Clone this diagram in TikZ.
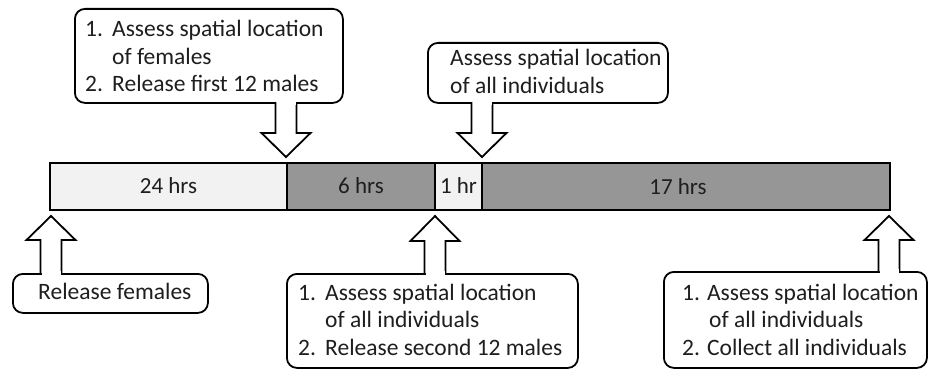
\documentclass[tikz,border=0pt]{standalone}
\usepackage{fontspec}
\setmainfont{Carlito}
\definecolor{barlight}{HTML}{F2F2F2}
\definecolor{bardark}{HTML}{969696}
\definecolor{txtcol}{HTML}{1E1E1E}
\newcommand\ind[1]{\makebox[27pt][l]{#1}}
\newcommand\calloutarrow[4]{%
  \draw[arrowline] (#1-10.5,#2) -- (#1-10.5,#3) -- (#1-24.5,#3) -- (#1,#4) -- (#1+24.5,#3) -- (#1+10.5,#3) -- (#1+10.5,#2);
  \fill[white] (#1-9.5,#2-2.5) rectangle (#1+9.5,#2+2.5);}
\begin{document}
\begin{tikzpicture}[x=1pt,y=-1pt,
  seg/.style={draw=black, line width=2pt, inner sep=0pt, minimum height=47pt, text=txtcol,
              font=\fontsize{23}{27.5}\selectfont},
  callbox/.style={draw=black, fill=white, line width=1.8pt, rounded corners=10pt, inner sep=0pt, anchor=north west},
  arrowline/.style={draw=black, fill=white, line width=1.8pt, line join=miter},
  txt/.style={inner sep=0pt, anchor=base west, text=txtcol, font=\fontsize{23.5}{27.5}\selectfont}]
\useasboundingbox (0,0) rectangle (929,369);

% timeline bar
\node[seg, fill=barlight, minimum width=237pt] (s24) at (168.5,186) {24 hrs};
\node[seg, fill=bardark,  minimum width=148pt] (s6)  at (361,186) {6 hrs};
\node[seg, fill=barlight, minimum width=47pt]  (s1)  at (458.5,186) {1 hr};
\node[seg, fill=bardark,  minimum width=408pt] (s17) at (686,186) {};
\node[txt, anchor=base, font=\fontsize{23}{27.5}\selectfont] (l17) at (678,194) {17 hrs};

% callout boxes
\node[callbox, minimum width=268pt, minimum height=94pt] (bA) at (74,8) {};
\node[callbox, minimum width=240pt, minimum height=60pt] (bB) at (427,42) {};
\node[callbox, minimum width=195pt, minimum height=39pt] (bC) at (12,273) {};
\node[callbox, minimum width=291pt, minimum height=94pt] (bD) at (286,273) {};
\node[callbox, minimum width=263pt, minimum height=96pt] (bE) at (663,271) {};

% arrows from boxes to the bar
\calloutarrow{286}{102}{133}{157}
\calloutarrow{482}{102}{133}{157}
\calloutarrow{51}{273}{240}{216}
\calloutarrow{435}{273}{241}{216}
\calloutarrow{889}{271}{240}{216}

% texts
\node[txt] (tA) at (85,37) {\begin{tabular}[t]{@{}l@{}}\ind{1.}Assess spatial location\\ \ind{}of females\\ \ind{2.}Release first 12 males\end{tabular}};
\node[txt] (tB) at (450,66) {\begin{tabular}[t]{@{}l@{}}Assess spatial location\\ of all individuals\end{tabular}};
\node[txt] (tC) at (38,299) {Release females};
\node[txt] (tD) at (298,300) {\begin{tabular}[t]{@{}l@{}}\ind{1.}Assess spatial location\\ \ind{}of all individuals\\ \ind{2.}Release second 12 males\end{tabular}};
\node[txt] (tE) at (682,300) {\begin{tabular}[t]{@{}l@{}}1. Assess spatial location\\ \hspace{27pt}of all individuals\\ 2. Collect all individuals\end{tabular}};
\end{tikzpicture}
\end{document}
